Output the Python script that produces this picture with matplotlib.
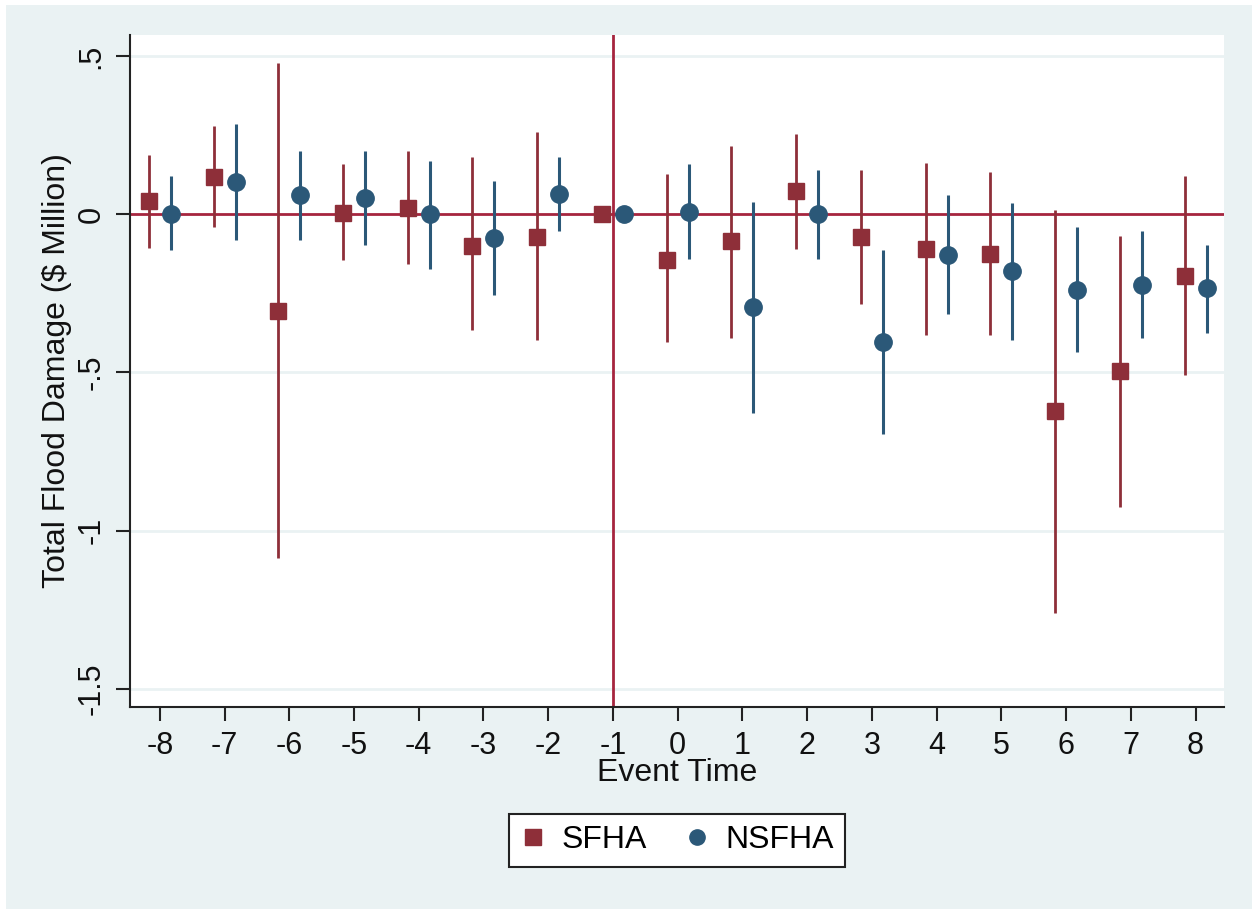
import matplotlib.pyplot as plt
from matplotlib.lines import Line2D
from matplotlib.patches import Rectangle
import numpy as np

plt.rcParams['font.family'] = ['Liberation Sans', 'DejaVu Sans']

event_time = np.arange(-8, 9)

# SFHA estimates with 95% CI (event -1 is the omitted period)
sfha = [0.041, 0.117, -0.307, 0.004, 0.020, -0.101, -0.071, 0.0,
        -0.144, -0.086, 0.072, -0.071, -0.109, -0.125, -0.623, -0.497, -0.195]
sfha_hi = [0.187, 0.277, 0.479, 0.157, 0.201, 0.180, 0.261, np.nan,
           0.127, 0.216, 0.253, 0.140, 0.163, 0.133, 0.014, -0.068, 0.119]
sfha_lo = [-0.107, -0.041, -1.087, -0.144, -0.157, -0.367, -0.397, np.nan,
           -0.404, -0.391, -0.111, -0.285, -0.381, -0.381, -1.260, -0.924, -0.509]

# NSFHA estimates with 95% CI
nsfha = [0.0, 0.102, 0.059, 0.052, 0.0, -0.075, 0.064, 0.0,
         0.008, -0.294, 0.0, -0.404, -0.128, -0.180, -0.239, -0.223, -0.233]
nsfha_hi = [0.119, 0.284, 0.201, 0.201, 0.169, 0.104, 0.180, np.nan,
            0.157, 0.038, 0.141, -0.113, 0.059, 0.036, -0.039, -0.052, -0.097]
nsfha_lo = [-0.113, -0.083, -0.083, -0.099, -0.173, -0.254, -0.052, np.nan,
            -0.141, -0.628, -0.142, -0.696, -0.315, -0.397, -0.434, -0.391, -0.375]

red = '#8E2F39'
blue = '#2B5878'
refline = '#A6253E'
bg = '#EAF2F3'

W, H = 1252, 909
fig = plt.figure(figsize=(W / 100, H / 100), dpi=100)
fig.patch.set_facecolor('white')
fig.add_artist(Rectangle((6 / W, 0), 1 - 6 / W, 1 - 5 / H, transform=fig.transFigure,
                         facecolor=bg, edgecolor='none', zorder=-10))

ax = fig.add_axes([130 / W, 1 - 707 / H, (1224 - 130) / W, (707 - 35) / H])
ax.set_facecolor('white')

off = 0.17
xs = event_time - off
xn = event_time + off

# gridlines
for g in [0.5, -0.5, -1.0, -1.5]:
    ax.axhline(g, color=bg, lw=2, zorder=0)

ax.axhline(0, color=refline, lw=2, zorder=1)
ax.axvline(-1, color=refline, lw=2, zorder=1)

ax.vlines(xs, sfha_lo, sfha_hi, color=red, lw=2, zorder=2)
ax.vlines(xn, nsfha_lo, nsfha_hi, color=blue, lw=2.2, zorder=2)
ax.plot(xs, sfha, 's', color=red, ms=12, mec=red, zorder=3)
ax.plot(xn, nsfha, 'o', color=blue, ms=12.5, mec=blue, zorder=3)

ax.set_xlim(-8.46, 8.44)
ax.set_ylim(-1.557, 0.566)

ax.set_xticks(event_time)
ax.set_xticklabels([str(t) for t in event_time])
yt = [0.5, 0, -0.5, -1, -1.5]
ax.set_yticks(yt)
ax.set_yticklabels(['.5', '0', '-.5', '-1', '-1.5'], rotation=90, va='center')

for s in ['top', 'right']:
    ax.spines[s].set_visible(False)
for s in ['left', 'bottom']:
    ax.spines[s].set_color('#222222')
    ax.spines[s].set_linewidth(1.5)
ax.tick_params(direction='out', length=10, width=1.5, color='#222222',
               labelsize=22, labelcolor='#111111', pad=7)

ax.set_xlabel('Event Time', fontsize=23, color='#111111')
ax.xaxis.set_label_coords(0.5, -0.098)
ax.xaxis.label.set_va('center')
ax.set_ylabel('Total Flood Damage ($ Million)', fontsize=23, color='#111111')
ax.yaxis.set_label_coords(-0.0667, 0.5)
ax.yaxis.label.set_va('center')

handles = [Line2D([], [], ls='none', marker='s', color=red, ms=11),
           Line2D([], [], ls='none', marker='o', color=blue, ms=11)]
leg = fig.legend(handles, ['SFHA', 'NSFHA'], loc='center', ncol=2,
                 bbox_to_anchor=(677 / W, 1 - 840.5 / H), fontsize=23,
                 frameon=True, fancybox=False, framealpha=1, edgecolor='#222222',
                 handletextpad=0.5, columnspacing=1.15, borderpad=0.35,
                 handlelength=0.8)
leg.get_frame().set_linewidth(1.5)

fig.savefig('out.png', dpi=100, facecolor=fig.get_facecolor())
